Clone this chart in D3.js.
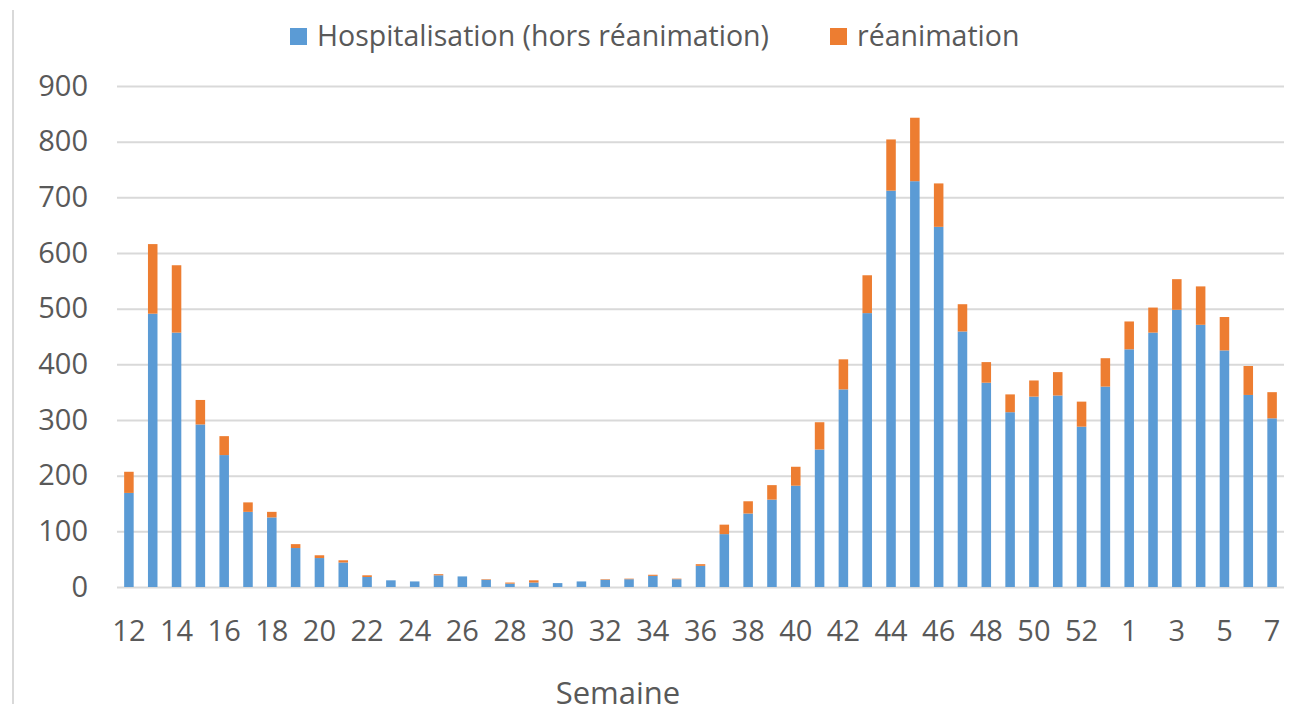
<!DOCTYPE html>
<html lang="fr">
  <head>
    <meta charset="utf-8">
    <title>Hospitalisations par semaine</title>
    <style type="text/css">
    body {
      margin: 0;
      background: #fff;
    }
    text {
      font-family: "Open Sans", sans-serif;
      fill: #595959;
    }
    .grid line {
      stroke: #d9d9d9;
      stroke-width: 2;
    }
    </style>
  </head>
  <body>
    <script src="https://d3js.org/d3.v7.min.js"></script>
    <div id="chart"></div>
    <script type="text/javascript">

    // semaines (2020 puis 2021)
    var semaines = ["12","13","14","15","16","17","18","19","20","21","22","23","24","25","26","27","28","29","30","31",
      "32","33","34","35","36","37","38","39","40","41","42","43","44","45","46","47","48","49","50","51",
      "52","53","1","2","3","4","5","6","7"];

    // hospitalisation hors réanimation
    var hospitalisation = [169,491,457,292,237,135,125,70,52,44,18,12,10,21,19,13,6,8,7,10,
      13,14,20,14,38,95,132,157,182,247,355,492,712,729,647,459,367,314,342,344,
      288,360,427,457,498,471,425,345,303];

    // réanimation
    var reanimation = [38,125,121,44,34,17,10,7,5,4,3,0,0,2,0,1,2,4,0,0,
      1,1,2,1,3,17,22,26,34,49,54,68,92,114,78,49,37,32,29,42,
      45,51,50,45,55,69,60,52,47];

    var yTicks = [0,100,200,300,400,500,600,700,800,900];

    var series = ["hosp", "rea"];
    var labels = {hosp: "Hospitalisation (hors réanimation)", rea: "réanimation"};
    var colors = {hosp: "#5b9bd5", rea: "#ed7d31"};

    // attention : "top" est déjà pris par window.top
    var width = 1311,
        height = 704,
        plotLeft = 117,
        plotRight = 1284,
        plotTop = 86,
        plotBottom = 587;

    var svg = d3.select("#chart")
        .append("svg")
        .attr("width", width)
        .attr("height", height);

    // bord gauche de la zone du graphique
    svg.append("line")
        .attr("x1", 13).attr("x2", 13)
        .attr("y1", 10).attr("y2", height)
        .attr("stroke", "#d9d9d9")
        .attr("stroke-width", 2);

    var x = d3.scaleBand()
        .domain(semaines)
        .range([plotLeft, plotRight])
        .paddingInner(0.6)
        .paddingOuter(0.3);

    var y = d3.scaleLinear()
        .domain([0, 900])
        .range([plotBottom, plotTop]);

    // lignes de grille + étiquettes de l'axe y
    var yAxis = svg.append("g")
        .attr("class", "grid")
        .attr("transform", "translate(" + plotLeft + ",0)")
        .call(d3.axisLeft(y)
          .tickValues(yTicks)
          .tickSize(-(plotRight - plotLeft))
          .tickPadding(29));
    yAxis.select(".domain").remove();
    yAxis.selectAll("text")
        .style("font-size", "29px")
        .attr("fill", "#595959");

    // empilement des deux séries
    var rows = semaines.map(function(s, i) {
      return {semaine: s, hosp: hospitalisation[i], rea: reanimation[i]};
    });
    var stacked = d3.stack().keys(series)(rows);

    svg.selectAll(".serie")
        .data(stacked)
        .enter()
        .append("g")
        .attr("class", "serie")
        .attr("fill", function(d) { return colors[d.key]; })
        .selectAll("rect")
        .data(function(d) { return d; })
        .enter()
        .append("rect")
        .attr("x", function(d) { return x(d.data.semaine); })
        .attr("width", x.bandwidth())
        .attr("y", function(d) { return y(d[1]); })
        .attr("height", function(d) { return y(d[0]) - y(d[1]); });

    // axe x : une étiquette sur deux
    var xAxis = svg.append("g")
        .attr("transform", "translate(0," + plotBottom + ")")
        .call(d3.axisBottom(x)
          .tickSize(0)
          .tickPadding(33)
          .tickFormat(function(d, i) { return i % 2 === 0 ? d : ""; }));
    xAxis.select(".domain").remove();
    xAxis.selectAll("text")
        .style("font-size", "29px")
        .attr("fill", "#595959");

    // titre de l'axe
    svg.append("text")
        .attr("x", 618)
        .attr("y", 704)
        .attr("text-anchor", "middle")
        .style("font-size", "31px")
        .text("Semaine");

    // légende
    var legendX = {hosp: 290, rea: 830};
    var legend = svg.selectAll(".legend")
        .data(series)
        .enter()
        .append("g")
        .attr("class", "legend")
        .attr("transform", function(d) { return "translate(" + legendX[d] + ",28)"; });
    legend.append("rect")
        .attr("width", 17)
        .attr("height", 17)
        .attr("fill", function(d) { return colors[d]; });
    legend.append("text")
        .attr("x", 27)
        .attr("y", 18)
        .style("font-size", "28.5px")
        .text(function(d) { return labels[d]; });

    </script>
  </body>
</html>
